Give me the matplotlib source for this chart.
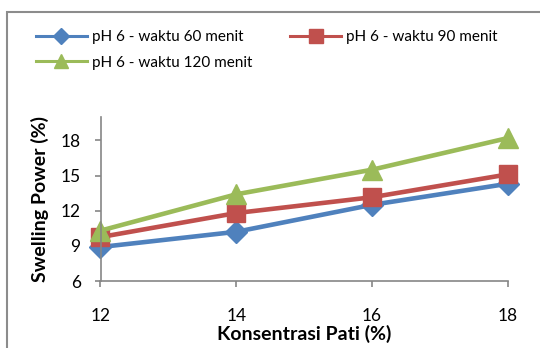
import matplotlib.pyplot as plt
from matplotlib.patches import Rectangle

plt.rcParams['font.family'] = ['Lato', 'DejaVu Sans']

konsentrasi = [12, 14, 16, 18]
waktu60 = [8.9, 10.2, 12.5, 14.3]
waktu90 = [9.75, 11.8, 13.15, 15.1]
waktu120 = [10.3, 13.4, 15.5, 18.2]
yticks = [6, 9, 12, 15, 18]

fig = plt.figure(figsize=(5.4, 3.48), dpi=100)
W, H = 540, 348
ax = fig.add_axes([100.5 / W, 1 - 281 / H, (507.7 - 100.5) / W, (281 - 117) / H])

# outer chart border
fig.patches.append(Rectangle((7 / W, -0.1), 1.2, 1.1 - 12 / H, transform=fig.transFigure,
                             fill=False, edgecolor='#8c8c8c', linewidth=1.5))

l1, = ax.plot(konsentrasi, waktu60, color='#4F81BD', lw=3.3, marker='D', ms=11,
              label='pH 6 - waktu 60 menit', clip_on=False)
l2, = ax.plot(konsentrasi, waktu90, color='#C0504D', lw=3.3, marker='s', ms=13.5,
              label='pH 6 - waktu 90 menit', clip_on=False)
l3, = ax.plot(konsentrasi, waktu120, color='#9BBB59', lw=3.3, marker='^', ms=14.5,
              label='pH 6 - waktu 120 menit', clip_on=False)

ax.set_xlim(12, 18)
ax.set_ylim(6, 20)
ax.set_xticks(konsentrasi)
ax.set_yticks(yticks)
for s in ['top', 'right']:
    ax.spines[s].set_visible(False)
for s in ['left', 'bottom']:
    ax.spines[s].set_color('#868686')
    ax.spines[s].set_linewidth(1.2)
ax.tick_params(axis='both', colors='#868686', length=4.3, width=1.2, labelsize=12.5, labelcolor='black')
ax.tick_params(axis='x', pad=15)
ax.tick_params(axis='y', pad=10)

ax.set_xlabel('Konsentrasi Pati (%)', fontsize=14, fontweight='bold', labelpad=1)
ax.set_ylabel('Swelling Power (%)', fontsize=14, fontweight='bold', labelpad=8)

leg = fig.legend([l1, l3, l2], [l1.get_label(), l3.get_label(), l2.get_label()],
                 ncol=2, loc='upper left', bbox_to_anchor=(30 / W, 1 - 24 / H),
                 frameon=False, fontsize=11, handlelength=3.3, handletextpad=0.35,
                 columnspacing=2.5, labelspacing=0.75, borderaxespad=0, markerscale=0.72)
for h in leg.legend_handles:
    h.set_linewidth(2.2)

fig.savefig('out.png', dpi=100)
